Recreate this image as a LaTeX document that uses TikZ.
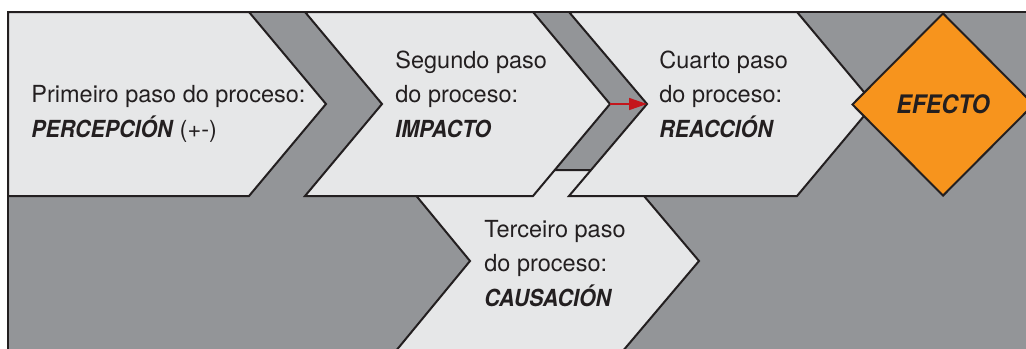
\documentclass[tikz,border=0pt]{standalone}
\usepackage{fontspec}
\setmainfont{TeX Gyre Heros}[BoldItalicFeatures={FakeStretch=0.91}]
\usepackage{xcolor}
\usetikzlibrary{arrows.meta, shapes.geometric}

\definecolor{panelgray}{HTML}{E6E7E8}
\definecolor{backgray}{HTML}{939598}
\definecolor{effectorange}{HTML}{F7941D}
\definecolor{inkdark}{HTML}{231F20}
\definecolor{arrowred}{HTML}{C4161C}

\begin{document}
\begin{tikzpicture}[x=0.5pt, y=-0.5pt,
    panel/.style={draw=inkdark, fill=panelgray, line width=1pt},
    txt/.style={anchor=base west, align=left, inner sep=0pt, text=inkdark, font=\fontsize{11.75}{17.25}\selectfont},
    effect/.style={diamond, draw=inkdark, fill=effectorange, line width=1pt, minimum width=91pt, minimum height=91.5pt, inner sep=0pt, text=inkdark, font=\fontsize{12.75}{14}\selectfont\bfseries\itshape}
]
    \useasboundingbox (0,0) rectangle (1026,348);
    \clip (0,0) rectangle (1026,348);
    \draw[fill=backgray, draw=inkdark, line width=1pt] (8,12) rectangle (1060,380);
    % third step sits behind the second and fourth
    \draw[panel] (395,170) -- (622,170) -- (699,261) -- (622,352) -- (395,352) -- (470,261) -- cycle;
    \draw[panel] (8,12) -- (249,12) -- (326,104) -- (249,196) -- (8,196) -- cycle;
    \draw[panel] (305,12) -- (533,12) -- (610,104) -- (533,196) -- (305,196) -- (382,104) -- cycle;
    \draw[panel] (569,12) -- (797,12) -- (874,104) -- (797,196) -- (569,196) -- (647,104) -- cycle;
    \coordinate (segtip) at (610,104);
    \coordinate (cuanotch) at (647,104);
    \node[effect] (efecto) at (943,104.5) {EFECTO};
    \draw[arrowred, line width=0.8pt, -{Triangle[length=9pt, width=6pt]}] (segtip) -- (cuanotch);

    % the base anchor is on the last line
    \node[txt] (primeiro) at (31,137) {Primeiro paso do proceso:\\\textbf{\textit{PERCEPCIÓN}}\kern3pt(+-)};
    \node[txt] (segundo) at (395,137) {Segundo paso\\do proceso:\\\textbf{\textit{IMPACTO}}};
    \node[txt] (terceiro) at (484,306) {Terceiro paso\\do proceso:\\\textbf{\textit{CAUSACIÓN}}};
    \node[txt] (cuarto) at (659,137) {Cuarto paso\\do proceso:\\\textbf{\textit{REACCIÓN}}};
\end{tikzpicture}
\end{document}
